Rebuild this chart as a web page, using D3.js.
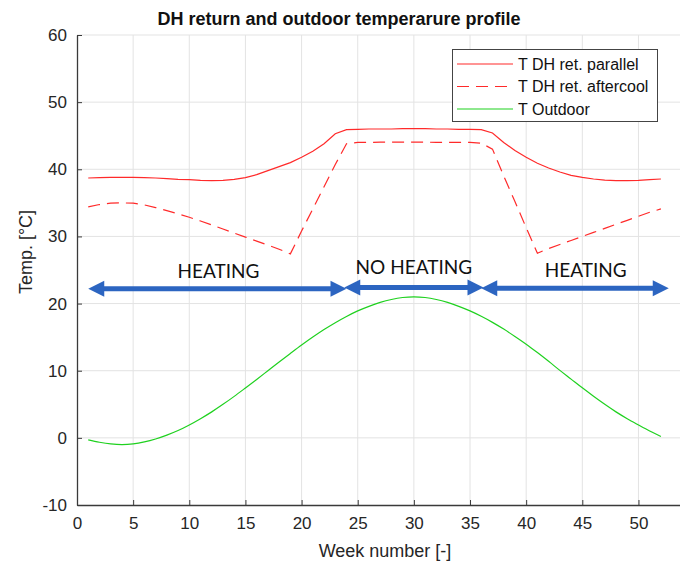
<!doctype html>
<html lang="en">
<head>
  <meta charset="utf-8">
  <title>DH return and outdoor temperature - D3</title>
  <style>
    body { margin: 0; background: #fff; }
    svg { display: block; font-family: Arial, "Liberation Sans", sans-serif; }
  </style>
</head>
<body>
  <svg width="680" height="566"></svg>

  <script src="https://cdn.jsdelivr.net/npm/d3@7"></script>
  <script>
    // week numbers 1..52
    var weeks = d3.range(1, 53);

    var tParallel = [38.7, 38.75, 38.8, 38.8, 38.8, 38.75, 38.7, 38.6, 38.5, 38.45,
      38.35, 38.3, 38.35, 38.5, 38.75, 39.2, 39.8, 40.4, 41.0, 41.8,
      42.7, 43.8, 45.3, 45.9, 45.95, 46.0, 46.0, 46.0, 46.05, 46.05,
      46.05, 46.0, 46.0, 45.95, 45.95, 45.9, 45.4, 44.0, 42.8, 41.8,
      40.9, 40.2, 39.6, 39.1, 38.8, 38.55, 38.4, 38.3, 38.3, 38.35,
      38.45, 38.55];

    var tAftercool = [34.4, 34.75, 34.95, 35.0, 34.95, 34.7, 34.3, 33.85, 33.35, 32.85,
      32.3, 31.7, 31.1, 30.5, 29.9, 29.3, 28.7, 28.1, 27.4, 30.8,
      34.1, 37.4, 40.7, 43.8, 44.0, 44.0, 44.05, 44.05, 44.05, 44.05,
      44.05, 44.0, 44.0, 44.0, 44.0, 43.9, 43.0, 39.0, 35.2, 31.3,
      27.5, 28.2, 28.8, 29.4, 30.0, 30.6, 31.2, 31.8, 32.4, 33.0,
      33.6, 34.1];

    var tOutdoor = [-0.3, -0.65, -0.9, -1.0, -0.9, -0.61, -0.17, 0.41, 1.09, 1.92,
      2.85, 3.87, 4.99, 6.18, 7.43, 8.7, 10.0, 11.3, 12.57, 13.82,
      15.01, 16.13, 17.15, 18.08, 18.91, 19.59, 20.17, 20.61, 20.9, 21.0,
      20.9, 20.61, 20.17, 19.59, 18.91, 18.1, 17.2, 16.2, 15.1, 13.95,
      12.7, 11.4, 10.05, 8.75, 7.45, 6.2, 5.0, 3.87, 2.85, 1.92,
      1.02, 0.2];

    var xTicks = [0, 5, 10, 15, 20, 25, 30, 35, 40, 45, 50];
    var yTicks = [-10, 0, 10, 20, 30, 40, 50, 60];

    // heating periods (weeks) and the level the arrows sit at
    var periodStart = [1, 23.8, 36];
    var periodEnd = [24, 36.2, 52.7];
    var periodLevel = [22.2, 22.4, 22.3];
    var periodLabels = ["HEATING", "NO HEATING", "HEATING"];
    var labelWeek = [12.6, 30.0, 45.3];
    var labelLevel = [23.8, 24.4, 24.0];

    var legendNames = ["T DH ret. parallel", "T DH ret. aftercool", "T Outdoor"];

    var svg = d3.select('svg');
    var x = d3.scaleLinear().domain([0, 55]).range([77, 694.6]);
    var y = d3.scaleLinear().domain([-10, 60]).range([505, 35]);

    // grid
    svg.append('g').selectAll('line').data(xTicks.slice(1)).enter()
      .append('line')
      .attr('x1', d => x(d)).attr('x2', d => x(d))
      .attr('y1', y(-10)).attr('y2', y(60))
      .attr('stroke', '#e3e3e3').attr('stroke-width', 1);
    svg.append('g').selectAll('line').data(yTicks.slice(1)).enter()
      .append('line')
      .attr('x1', x(0)).attr('x2', 680)
      .attr('y1', d => y(d)).attr('y2', d => y(d))
      .attr('stroke', '#e3e3e3').attr('stroke-width', 1);

    // axes (plain hyphen for negatives, like the original)
    var fmt = d => String(d);
    var xAxis = svg.append('g')
      .attr('transform', 'translate(0,' + y(-10) + ')')
      .call(d3.axisBottom(x).tickValues(xTicks).tickFormat(fmt).tickSizeInner(-5).tickSizeOuter(0).tickPadding(12));
    var yAxis = svg.append('g')
      .attr('transform', 'translate(' + x(0) + ',0)')
      .call(d3.axisLeft(y).tickValues(yTicks).tickFormat(fmt).tickSizeInner(-5).tickSizeOuter(0).tickPadding(10));
    [xAxis, yAxis].forEach(function (a) {
      a.select('.domain').attr('stroke', '#3a3a3a').attr('stroke-width', 1.3);
      a.selectAll('.tick line').attr('stroke', '#3a3a3a');
      a.selectAll('.tick text').attr('fill', '#262626')
        .attr('font-size', '17px').attr('font-family', 'Arial, "Liberation Sans", sans-serif');
    });

    // lines
    var line = d3.line()
      .x((d, i) => x(weeks[i]))
      .y(d => y(d));
    var smooth = d3.line()
      .x((d, i) => x(weeks[i]))
      .y(d => y(d))
      .curve(d3.curveMonotoneX);

    svg.append('path').datum(tParallel)
      .attr('d', line).attr('fill', 'none')
      .attr('stroke', '#ff2a2a').attr('stroke-width', 1.2);
    svg.append('path').datum(tAftercool)
      .attr('d', line).attr('fill', 'none')
      .attr('stroke', '#ff2a2a').attr('stroke-width', 1.2)
      .attr('stroke-dasharray', '12,7');
    svg.append('path').datum(tOutdoor)
      .attr('d', smooth).attr('fill', 'none')
      .attr('stroke', '#1fd11f').attr('stroke-width', 1.2);

    // double-headed arrows for heating periods
    var blue = '#2c65c1';
    var head = 16, half = 8;
    var arrows = svg.append('g');
    periodStart.forEach(function (s, i) {
      var x1 = x(s), x2 = x(periodEnd[i]), yy = y(periodLevel[i]);
      arrows.append('line')
        .attr('x1', x1 + head - 1).attr('x2', x2 - head + 1)
        .attr('y1', yy).attr('y2', yy)
        .attr('stroke', blue).attr('stroke-width', 5);
      arrows.append('path')
        .attr('d', 'M' + x1 + ',' + yy + 'L' + (x1 + head) + ',' + (yy - half) + 'L' + (x1 + head) + ',' + (yy + half) + 'Z')
        .attr('fill', blue);
      arrows.append('path')
        .attr('d', 'M' + x2 + ',' + yy + 'L' + (x2 - head) + ',' + (yy - half) + 'L' + (x2 - head) + ',' + (yy + half) + 'Z')
        .attr('fill', blue);
      arrows.append('text')
        .attr('x', x(labelWeek[i])).attr('y', y(labelLevel[i]))
        .attr('text-anchor', 'middle')
        .attr('font-family', 'Lato, "Open Sans", sans-serif')
        .attr('font-size', '19px')
        .attr('fill', '#111')
        .text(periodLabels[i]);
    });

    // legend
    var lg = svg.append('g');
    lg.append('rect')
      .attr('x', 452.5).attr('y', 49.5).attr('width', 205).attr('height', 72)
      .attr('fill', '#fff').attr('stroke', '#444').attr('stroke-width', 1);
    var legendStyle = [
      { color: '#ff2a2a', dash: null },
      { color: '#ff2a2a', dash: '12,7' },
      { color: '#1fd11f', dash: null }
    ];
    legendNames.forEach(function (n, i) {
      var ly = 64 + i * 22.5;
      lg.append('line')
        .attr('x1', 457).attr('x2', 513).attr('y1', ly).attr('y2', ly)
        .attr('stroke', legendStyle[i].color).attr('stroke-width', 1.2)
        .attr('stroke-dasharray', legendStyle[i].dash);
      lg.append('text')
        .attr('x', 518).attr('y', ly + 5.5)
        .attr('font-size', '16px').attr('fill', '#111')
        .text(n);
    });

    // title and axis labels
    svg.append('text')
      .attr('x', 339).attr('y', 25)
      .attr('text-anchor', 'middle')
      .attr('font-size', '18px').attr('font-weight', 'bold').attr('fill', '#111')
      .text('DH return and outdoor temperarure profile');
    svg.append('text')
      .attr('x', 385).attr('y', 557)
      .attr('text-anchor', 'middle')
      .attr('font-size', '18px').attr('fill', '#262626')
      .text('Week number [-]');
    svg.append('text')
      .attr('transform', 'translate(32,252) rotate(-90)')
      .attr('text-anchor', 'middle')
      .attr('font-size', '18px').attr('fill', '#262626')
      .text('Temp. [°C]');
  </script>
</body>
</html>
